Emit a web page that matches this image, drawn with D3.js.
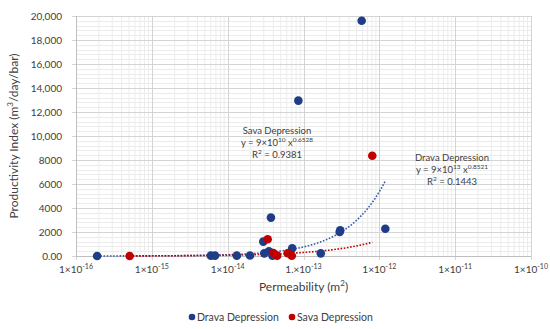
<!DOCTYPE html>
<html>
<head>
<meta charset="utf-8">
<script src="https://cdn.jsdelivr.net/npm/d3@7"></script>
<style>
  body { margin: 0; background: #fff; }
  svg text { font-family: Lato, "Open Sans", sans-serif; fill: #404040; }
</style>
</head>
<body>
<div id="chart"></div>
<script>
// permeability (m2) and productivity index (m3/day/bar)
var dravaK  = [1.9e-16, 6.0e-15, 6.8e-15, 1.32e-14, 1.97e-14, 2.95e-14, 3.04e-14, 3.5e-14, 3.72e-14, 3.9e-14, 7.1e-14, 8.55e-14, 1.69e-13, 3.0e-13, 3.05e-13, 5.85e-13, 1.2e-12];
var dravaPI = [0, 30, 30, 30, 40, 1200, 220, 400, 3200, 30, 640, 12950, 220, 2000, 2150, 19600, 2270];
var savaK  = [5.1e-16, 3.37e-14, 4.0e-14, 4.5e-14, 6.2e-14, 7.0e-14, 8.07e-13];
var savaPI = [0, 1390, 250, 30, 230, 20, 8350];

// power trendlines as printed on the chart: y = a * x^b
var dravaFit = {a: 9e13, b: 0.8521};
var savaFit  = {a: 9e10, b: 0.6528};

var xTickExp = [-16, -15, -14, -13, -12, -11, -10];
var xTickPre = ["1×10", "1×10", "1×10", "1.×10", "1×10", "1×10", "1×10"];
var yTicks = [0, 2000, 4000, 6000, 8000, 10000, 12000, 14000, 16000, 18000, 20000];
var yTickLabels = ["0.00", "2000", "4000", "6000", "8000", "10,000", "12,000", "14,000", "16,000", "18,000", "20,000"];

var blue = "#1f3d87", red = "#c00000";

var W = 550, H = 329;
var margin = {top: 16, right: 19, bottom: 73, left: 76},
    width = W - margin.left - margin.right,
    height = H - margin.top - margin.bottom;

var svg = d3.select("#chart").append("svg")
  .attr("width", W).attr("height", H);

var g = svg.append("g")
  .attr("transform", `translate(${margin.left},${margin.top})`);

var x = d3.scaleLog().domain([1e-16, 1e-10]).range([0, width]);
var y = d3.scaleLinear().domain([0, 20000]).range([height, 0]);

// minor grid
var minorX = [];
for (var e = -16; e < -10; e++) for (var m = 2; m <= 9; m++) minorX.push(m * Math.pow(10, e));
g.append("g").selectAll("line").data(minorX).join("line")
  .attr("x1", d => x(d)).attr("x2", d => x(d))
  .attr("y1", 0).attr("y2", height)
  .attr("stroke", "#ececec").attr("stroke-width", 1);
g.append("g").selectAll("line").data(d3.range(400, 20000, 400).filter(v => v % 2000 != 0)).join("line")
  .attr("x1", 0).attr("x2", width)
  .attr("y1", d => Math.round(y(d)) + 0.5).attr("y2", d => Math.round(y(d)) + 0.5)
  .attr("stroke", "#ececec").attr("stroke-width", 1);

// major grid
g.append("g").selectAll("line").data(xTickExp).join("line")
  .attr("x1", d => Math.round(x(Math.pow(10, d))) + 0.5).attr("x2", d => Math.round(x(Math.pow(10, d))) + 0.5)
  .attr("y1", 0).attr("y2", height + 4)
  .attr("stroke", "#d4d4d4").attr("stroke-width", 1);
g.append("g").selectAll("line").data(yTicks).join("line")
  .attr("x1", -4).attr("x2", width)
  .attr("y1", d => Math.round(y(d)) + 0.5).attr("y2", d => Math.round(y(d)) + 0.5)
  .attr("stroke", "#d4d4d4").attr("stroke-width", 1);

// axis lines
g.append("line").attr("x1", 0.5).attr("x2", 0.5).attr("y1", 0).attr("y2", height)
  .attr("stroke", "#bfbfbf");
g.append("line").attr("x1", 0).attr("x2", width).attr("y1", height + 0.5).attr("y2", height + 0.5)
  .attr("stroke", "#bfbfbf");

// y tick labels
g.append("g").selectAll("text").data(yTicks).join("text")
  .attr("x", -14).attr("y", d => y(d))
  .attr("dy", "0.35em")
  .attr("text-anchor", "end")
  .style("font-size", "10px")
  .text((d, i) => yTickLabels[i]);

// x tick labels with superscript exponent
var xl = g.append("g").selectAll("text").data(xTickExp).join("text")
  .attr("x", d => x(Math.pow(10, d)))
  .attr("y", height + 17)
  .attr("text-anchor", "middle")
  .style("font-size", "10px");
xl.append("tspan").text((d, i) => xTickPre[i]);
xl.append("tspan").attr("dy", -4).style("font-size", "7px").text(d => "-" + Math.abs(d));

// axis titles
var xt = svg.append("text")
  .attr("x", margin.left + width / 2).attr("y", 291)
  .attr("text-anchor", "middle").style("font-size", "12px");
xt.append("tspan").text("Permeability (m");
xt.append("tspan").attr("dy", -5).style("font-size", "8px").text("2");
xt.append("tspan").attr("dy", 5).text(")");

var yt = svg.append("text")
  .attr("transform", `translate(18,136) rotate(-90)`)
  .attr("text-anchor", "middle").style("font-size", "12px");
yt.append("tspan").text("Productivity Index (m");
yt.append("tspan").attr("dy", -5).style("font-size", "8px").text("3");
yt.append("tspan").attr("dy", 5).text("/day/bar)");

// trendlines
function trend(fit, ks) {
  var lo = Math.log10(d3.min(ks)), hi = Math.log10(d3.max(ks));
  return d3.range(0, 101).map(i => {
    var k = Math.pow(10, lo + (hi - lo) * i / 100);
    return [k, fit.a * Math.pow(k, fit.b)];
  });
}
var line = d3.line().x(d => x(d[0])).y(d => y(d[1]));

g.append("path").datum(trend(dravaFit, dravaK))
  .attr("d", line).attr("fill", "none")
  .attr("stroke", "#3a5ba8").attr("stroke-width", 1.6)
  .attr("stroke-dasharray", "1.6,1.6");
g.append("path").datum(trend(savaFit, savaK))
  .attr("d", line).attr("fill", "none")
  .attr("stroke", red).attr("stroke-width", 1.6)
  .attr("stroke-dasharray", "1.6,1.6");

// points
g.append("g").selectAll("circle").data(dravaK).join("circle")
  .attr("cx", d => x(d)).attr("cy", (d, i) => y(dravaPI[i]))
  .attr("r", 4.3).attr("fill", blue);
g.append("g").selectAll("circle").data(savaK).join("circle")
  .attr("cx", d => x(d)).attr("cy", (d, i) => y(savaPI[i]))
  .attr("r", 4.3).attr("fill", red);

// trendline labels
function eqLabel(cx, cy, title, coefExp, bExp, r2) {
  var t = svg.append("g").style("font-size", "9.5px");
  t.append("text").attr("x", cx).attr("y", cy).attr("text-anchor", "middle").text(title);
  var e = t.append("text").attr("x", cx).attr("y", cy + 12).attr("text-anchor", "middle");
  e.append("tspan").text("y = 9×10");
  e.append("tspan").attr("dy", -4).style("font-size", "6.5px").text(coefExp);
  e.append("tspan").attr("dy", 4).text(" x");
  e.append("tspan").attr("dy", -4).style("font-size", "6.5px").text(bExp);
  var r = t.append("text").attr("x", cx).attr("y", cy + 24).attr("text-anchor", "middle");
  r.append("tspan").text("R");
  r.append("tspan").attr("dy", -4).style("font-size", "6.5px").text("2");
  r.append("tspan").attr("dy", 4).text(" = " + r2);
}
eqLabel(277, 134, "Sava Depression", "10", "0.6528", "0.9381");
eqLabel(452, 161, "Drava Depression", "13", "0.8521", "0.1443");

// legend
var legend = [{name: "Drava Depression", color: blue, x: 192}, {name: "Sava Depression", color: red, x: 292}];
var lg = svg.append("g").selectAll("g").data(legend).join("g")
  .attr("transform", d => `translate(${d.x},317)`);
lg.append("circle").attr("r", 3.3).attr("fill", d => d.color);
lg.append("text").attr("x", 5).attr("dy", "0.35em")
  .style("font-size", "10.5px").text(d => d.name);
</script>
</body>
</html>
